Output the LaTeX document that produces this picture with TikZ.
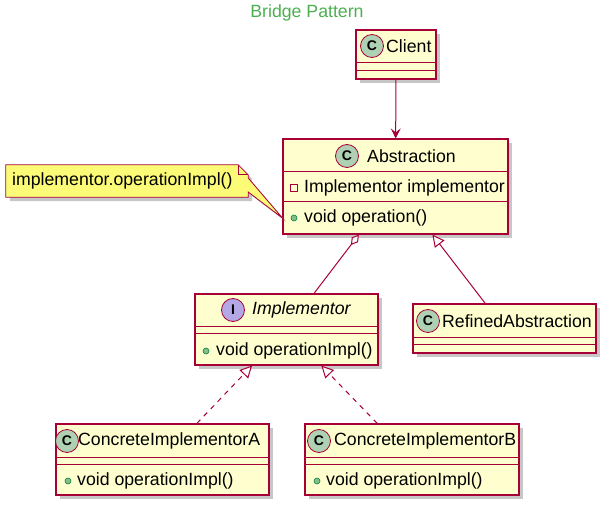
\documentclass[tikz,border=0pt]{standalone}
\usepackage{fontspec}
\setmainfont{Liberation Sans}
\usetikzlibrary{arrows.meta,positioning,calc,shadows}
\definecolor{UMLRed}{HTML}{A80036}
\definecolor{UMLFill}{HTML}{FEFECE}
\definecolor{SpotC}{HTML}{ADD1B2}
\definecolor{SpotI}{HTML}{B4A7E5}
\definecolor{NoteFill}{HTML}{FBFB77}
\definecolor{TitleGreen}{RGB}{76,175,80}
\definecolor{PubGreen}{HTML}{84BE84}
\definecolor{PubDark}{HTML}{038048}

\begin{document}
\begin{tikzpicture}[x=1pt,y=-1pt,every node/.style={inner sep=0pt,font=\fontsize{17.7}{21}\selectfont}]
\tikzset{cls/.style={draw=UMLRed,fill=UMLFill,line width=1.2pt,drop shadow={shadow xshift=4pt,shadow yshift=-4pt,fill=black!40,opacity=.55}},
 spot/.style={circle,draw=UMLRed,line width=.8pt,minimum size=23pt,font=\fontsize{14}{14}\selectfont\bfseries},
 member/.style={anchor=west},
 sepline/.style={draw=UMLRed,line width=1.2pt},
 pub/.style={circle,draw=PubDark,fill=PubGreen,line width=.6pt,minimum size=6pt},
 priv/.style={rectangle,draw=UMLRed,line width=.8pt,minimum size=6.5pt},
 link/.style={draw=UMLRed,line width=1pt},
 inherit/.style={link,-{Triangle[fill=white,length=12pt,width=12pt]}}}
\useasboundingbox (0,0) rectangle (606,505);
\node[text=TitleGreen] (title) at (307,13) {Bridge Pattern};
% class boxes
\node[cls,minimum width=80pt,minimum height=49pt] (client) at (396,54.5) {};
\node[cls,minimum width=225pt,minimum height=95pt] (abs) at (395.5,186.5) {};
\node[cls,minimum width=183pt,minimum height=71pt] (impl) at (286.5,329.5) {};
\node[cls,minimum width=183pt,minimum height=49pt] (refined) at (504.5,328.5) {};
\node[cls,minimum width=213pt,minimum height=71pt] (conA) at (162.5,459.5) {};
\node[cls,minimum width=214pt,minimum height=71pt] (conB) at (412,459.5) {};
% compartments
\foreach \cl/\a/\b in {client/33/41,abs/33/63,impl/33/40,refined/34/41,conA/34/41,conB/34/41}{
  \draw[sepline] ($(\cl.north west)+(0,\a)$) -- ($(\cl.north east)+(0,\a)$);
  \draw[sepline] ($(\cl.north west)+(0,\b)$) -- ($(\cl.north east)+(0,\b)$);
}
% headers
\node[spot,fill=SpotC] (clientC) at (372,46) {C};
\node[member] (clientN) at (386,46) {Client};
\node[spot,fill=SpotC] (absC) at (347,156) {C};
\node[member] (absN) at (367,156) {Abstraction};
\node[spot,fill=SpotI] (implI) at (233,310) {I};
\node[member,font=\fontsize{17.7}{21}\selectfont\itshape] (implN) at (252,310) {Implementor};
\node[spot,fill=SpotC] (refinedC) at (428,321) {C};
\node[member] (refinedN) at (442,321) {RefinedAbstraction};
\node[spot,fill=SpotC] (conAC) at (67,441) {C};
\node[member] (conAN) at (78,441) {ConcreteImplementorA};
\node[spot,fill=SpotC] (conBC) at (319,441) {C};
\node[member] (conBN) at (334,441) {ConcreteImplementorB};
% members
\node[priv] (attrP) at (294,188) {};
\node[member] (attr) at (304,188) {Implementor implementor};
\node[pub] (opP) at (294,218) {};
\node[member] (op) at (304,218) {void operation()};
\node[pub] (implOpP) at (206,351) {};
\node[member] (implOp) at (216,351) {void operationImpl()};
\node[pub] (conAOpP) at (68,481) {};
\node[member] (conAOp) at (77,481) {void operationImpl()};
\node[pub] (conBOpP) at (317,481) {};
\node[member] (conBOp) at (326,481) {void operationImpl()};
% note
\node[minimum width=242pt,minimum height=32pt] (note) at (127,181) {};
\coordinate (opref) at (abs.west |- op);
\draw[draw=UMLRed,fill=NoteFill,line width=.8pt,drop shadow={shadow xshift=4pt,shadow yshift=-4pt,fill=black!40,opacity=.55}]
  (note.north west) -- ($(note.north east)+(-10,0)$) -- ($(note.north east)+(0,10)$) -- ($(note.east)+(0,-3)$)
  -- (opref) -- ($(note.east)+(0,11)$) -- (note.south east) -- (note.south west) -- cycle;
\draw[draw=UMLRed,line width=.8pt] ($(note.north east)+(-10,0)$) -- ++(0,10) -- ++(10,0);
\node[member] (noteTxt) at (12,181) {implementor.operationImpl()};
% relations
\draw[link,-{Stealth[length=10pt,width=10pt,inset=4pt]}] (client) -- (abs);
\draw[link,-{Diamond[fill=white,length=13pt,width=8pt]}] (impl) -- (abs);
\draw[inherit] (refined) -- (abs);
\draw[inherit,dash pattern=on 5pt off 5pt] (conA) -- (impl);
\draw[inherit,dash pattern=on 5pt off 5pt] (conB) -- (impl);
\end{tikzpicture}
\end{document}
